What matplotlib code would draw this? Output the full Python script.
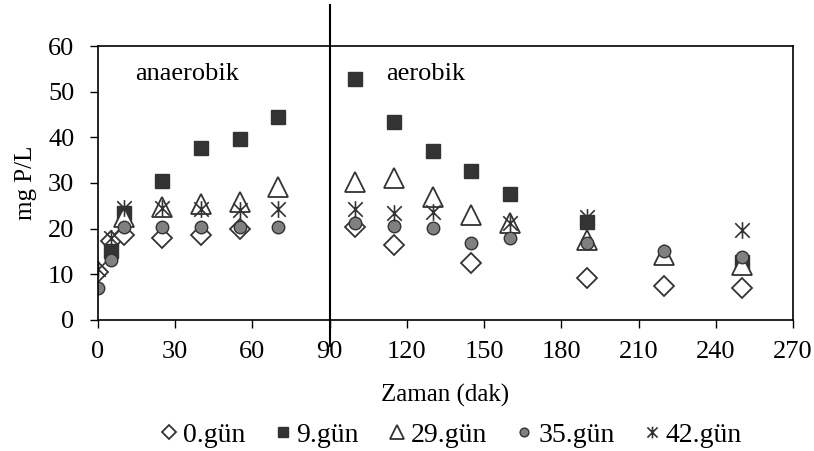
import numpy as np
import matplotlib
matplotlib.use('Agg')
import matplotlib.pyplot as plt
from matplotlib.path import Path

plt.rcParams['font.family'] = ['Liberation Serif', 'DejaVu Serif']

# Data
zaman = [0, 5, 10, 25, 40, 55, 70, 100, 115, 130, 145, 160, 190, 220, 250]
nan = np.nan
gun0 = [10.6, 17.3, 18.6, 17.9, 18.6, 20.0, nan, 20.4, 16.4, nan, 12.5, nan, 9.1, 7.4, 6.9]
gun9 = [nan, 15.0, 23.5, 30.5, 37.7, 39.6, 44.5, 52.8, 43.4, 37.1, 32.7, 27.6, 21.5, nan, 12.6]
gun29 = [nan, nan, 22.6, 24.8, 25.5, 25.9, 29.2, 30.3, 31.0, 27.0, 23.0, 21.2, 17.5, 14.2, 12.0]
gun35 = [7.0, 13.1, 20.4, 20.3, 20.3, 20.4, 20.4, 21.2, 20.6, 20.1, 16.9, 17.9, 16.8, 15.0, 13.9]
gun42 = [11.2, 18.0, 24.5, 24.5, 24.2, 24.0, 24.3, 24.4, 23.4, 23.7, nan, 21.3, 22.6, nan, 19.7]

# Excel-like star: an X with a vertical bar through it
star = Path([(-1, -1), (1, 1), (-1, 1), (1, -1), (0, -1.15), (0, 1.15)],
            [Path.MOVETO, Path.LINETO, Path.MOVETO, Path.LINETO, Path.MOVETO, Path.LINETO])

fig = plt.figure(figsize=(8.14, 4.51), dpi=100)
ax = fig.add_axes([0.1204, 0.2905, 0.8538, 0.6075])

edge = '#333333'
ax.plot(zaman, gun0, ls='none', marker='D', ms=10, mfc='white', mec=edge, mew=1.3, label='0.gün')
ax.plot(zaman, gun9, ls='none', marker='s', ms=10, mfc='#333333', mec='#333333', mew=1, label='9.gün')
ax.plot(zaman, gun29, ls='none', marker='^', ms=14, mfc='white', mec=edge, mew=1.3, label='29.gün')
ax.plot(zaman, gun35, ls='none', marker='o', ms=9, mfc='#808080', mec=edge, mew=1.0, label='35.gün')
ax.plot(zaman, gun42, ls='none', marker=star, ms=12, mfc='none', mec=edge, mew=1.2, label='42.gün')

# anaerobic / aerobic divider
ax.plot([90, 90], [-5.7, 69], color='black', lw=1.5, clip_on=False)

ax.set_xlim(0, 270)
ax.set_ylim(0, 60)
ax.set_xticks(range(0, 271, 30))
ax.set_yticks(range(0, 61, 10))
ax.tick_params(direction='out', length=6, width=1, labelsize=19, colors='black')
ax.tick_params(axis='x', pad=9)
ax.tick_params(axis='y', pad=11)
for s in ax.spines.values():
    s.set_linewidth(1.2)

ax.text(14.5, 52.5, 'anaerobik', fontsize=19)
ax.text(112, 52.5, 'aerobik', fontsize=19)

ax.set_xlabel('Zaman (dak)', fontsize=18)
ax.xaxis.set_label_coords(0.5, -0.235)
ax.set_ylabel('mg P/L', fontsize=18)
ax.yaxis.set_label_coords(-0.088, 0.5)

fig.legend(loc='center', bbox_to_anchor=(0.552, 0.035), ncol=5, frameon=False,
           fontsize=20, handletextpad=0.05, columnspacing=0.9, markerscale=0.7,
           handlelength=0.9)

fig.savefig('out.png', dpi=100)
